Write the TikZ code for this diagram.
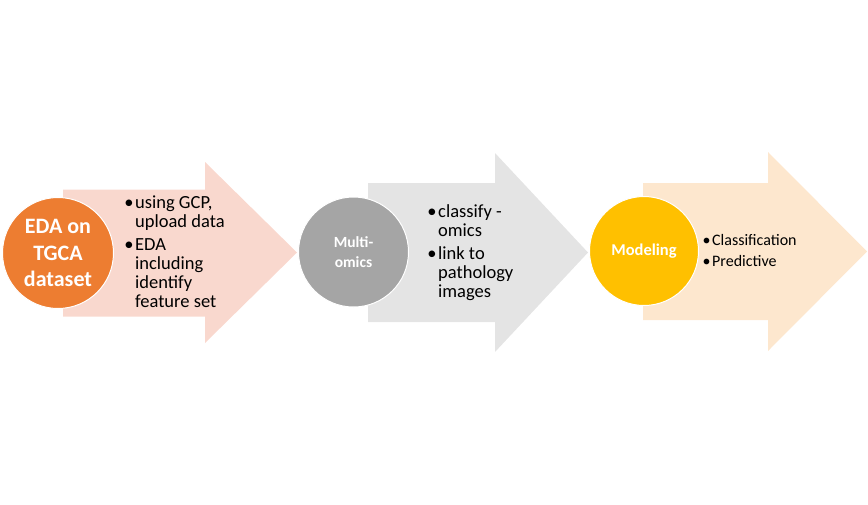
\documentclass[tikz,border=0pt]{standalone}
\usepackage{fontspec}
\setmainfont{Carlito}
\definecolor{arrA}{RGB}{249,216,206}
\definecolor{arrB}{RGB}{228,228,228}
\definecolor{arrC}{RGB}{253,231,206}
\definecolor{cirA}{RGB}{237,125,49}
\definecolor{cirB}{RGB}{165,165,165}
\definecolor{cirC}{RGB}{255,192,0}
\tikzset{
  circlenode/.style={circle, draw=white, line width=1pt, inner sep=0pt, text=white, align=center},
  bullettext/.style={anchor=base west, inner sep=0pt, align=left, text=black},
}
\newcommand{\bul}{\llap{\textbullet\hspace{1.5pt}}}
\begin{document}
\begin{tikzpicture}[x=1pt,y=-1pt]
\useasboundingbox (0,0) rectangle (868,504);
% arrows
\fill[arrA] (63,189.5) -- (205,189.5) -- (205,162) -- (297,252.5) -- (205,343) -- (205,316.5) -- (63,316.5) -- cycle;
\fill[arrB] (368,183) -- (495,183) -- (495,153) -- (588,252.5) -- (495,352) -- (495,322) -- (368,322) -- cycle;
\fill[arrC] (643,183) -- (768,183) -- (768,152) -- (867,251.5) -- (768,351) -- (768,320) -- (643,320) -- cycle;
% circles
\node[circlenode, fill=cirA, minimum size=111pt, font=\bfseries\fontsize{22}{26.5}\selectfont] (c1) at (58,253) {EDA on\\TGCA\\dataset};
\node[circlenode, fill=cirB, minimum size=110pt, font=\bfseries\fontsize{15.5}{20}\selectfont] (c2) at (353.5,252) {Multi-\\omics};
\node[circlenode, fill=cirC, minimum size=109pt, font=\bfseries\fontsize{16.5}{20}\selectfont] (c3) at (644,251) {Modeling};
% texts
\node[bullettext, font=\fontsize{18.5}{19}\selectfont] (t1) at (135,307) {\bul using GCP,\\upload data\\[4pt]\bul EDA\\including\\identify\\feature set};
\node[bullettext, font=\fontsize{18.5}{19}\selectfont] (t2) at (438,297) {\bul classify -\\omics\\[4pt]\bul link to\\pathology\\images};
\node[bullettext, font=\fontsize{16}{17}\selectfont] (t3) at (712,266) {\bul Classification\\[4pt]\bul Predictive};
\end{tikzpicture}
\end{document}
